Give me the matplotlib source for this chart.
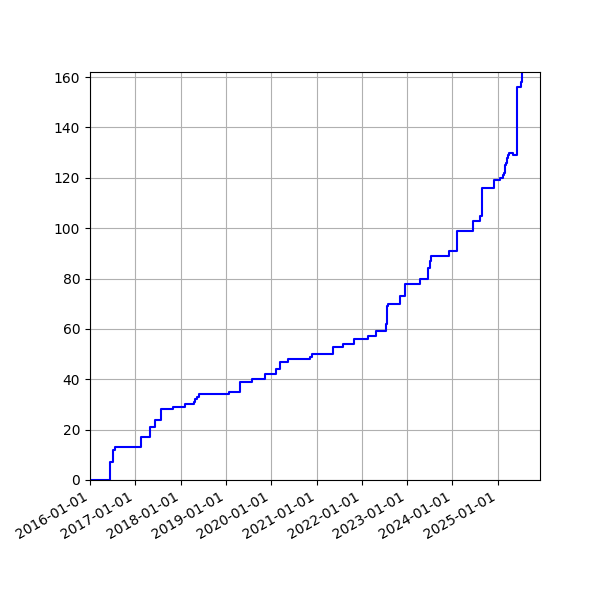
import numpy as np
import pandas as pd
import matplotlib
matplotlib.use("Agg")
import matplotlib.pyplot as plt
import matplotlib.dates as mdates

# dates where the running total changes, and the total from then on
dates = ['2016-01-01', '2016-06-10', '2016-07-05', '2016-07-23', '2017-02-15',
         '2017-04-28', '2017-06-08', '2017-07-26', '2017-11-02', '2018-02-07',
         '2018-04-18', '2018-04-30', '2018-05-12', '2018-05-26', '2019-01-28',
         '2019-04-26', '2019-07-30', '2019-11-12', '2020-02-08', '2020-03-12',
         '2020-05-16', '2020-11-10', '2020-11-25', '2021-05-14', '2021-08-03',
         '2021-10-27', '2022-02-17', '2022-04-24', '2022-07-14', '2022-07-20',
         '2022-07-23', '2022-07-26', '2022-08-01', '2022-11-04', '2022-12-12',
         '2023-04-15', '2023-06-18', '2023-07-05', '2023-07-12', '2023-12-02',
         '2024-02-04', '2024-06-13', '2024-08-08', '2024-08-28', '2024-12-06',
         '2025-01-23', '2025-02-12', '2025-02-23', '2025-02-26', '2025-03-01',
         '2025-03-04', '2025-03-09', '2025-03-13', '2025-03-20', '2025-03-26',
         '2025-04-01', '2025-05-08', '2025-06-06', '2025-07-09', '2025-07-15']
counts = [0, 7, 12, 13, 17,
          21, 24, 28, 29, 30,
          31, 32, 33, 34, 35,
          39, 40, 42, 44, 47,
          48, 49, 50, 53, 54,
          56, 57, 59, 62, 64,
          66, 69, 70, 73, 78,
          80, 84, 87, 89, 91,
          99, 103, 105, 116, 119,
          120, 121, 122, 123, 124,
          125, 126, 127, 128, 129,
          130, 129, 156, 158, 162]

x = pd.to_datetime(dates)

fig, ax = plt.subplots(figsize=(6, 6), dpi=100)
fig.subplots_adjust(left=0.15, right=0.9, bottom=0.2, top=0.88)

ax.step(x, counts, where='post', color='b')

ax.set_xlim(pd.Timestamp('2016-01-01'), pd.Timestamp('2025-12-08'))
ax.set_ylim(0, 162)
ax.xaxis.set_major_locator(mdates.YearLocator())
ax.xaxis.set_major_formatter(mdates.DateFormatter('%Y-%m-%d'))
ax.grid(True)
fig.autofmt_xdate()
fig.subplots_adjust(left=0.15, right=0.9, bottom=0.2, top=0.88)

plt.savefig('out.png')
